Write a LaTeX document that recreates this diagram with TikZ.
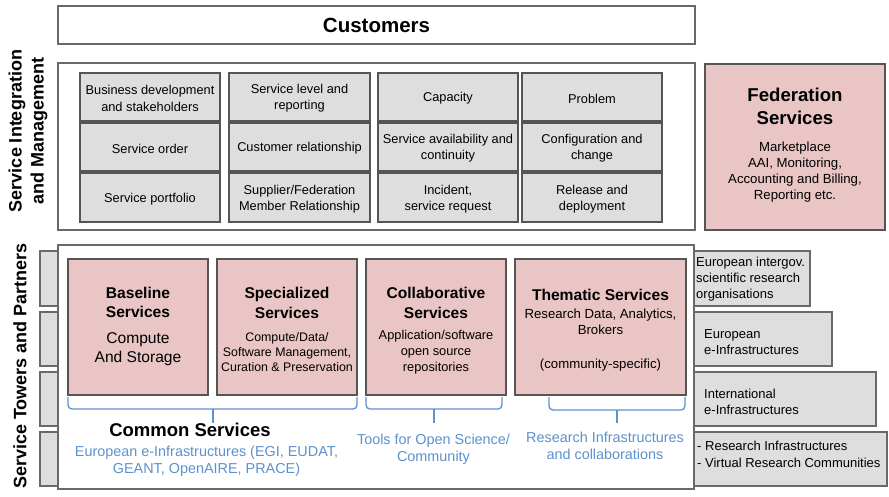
\documentclass[tikz,border=0pt]{standalone}
\usepackage{fontspec}
\setmainfont{Liberation Sans}
\definecolor{pinkfill}{RGB}{234,197,197}
\definecolor{grayfill}{RGB}{222,222,222}
\definecolor{edgegray}{RGB}{105,105,105}
\definecolor{darkedge}{RGB}{85,85,85}
\definecolor{bluetxt}{RGB}{92,146,206}
\begin{document}
\begin{tikzpicture}[x=1pt,y=-1pt,
  outerbox/.style={draw=edgegray, line width=1.2pt, fill=white, inner sep=0pt},
  graybox/.style={draw=darkedge, line width=1.4pt, fill=grayfill, inner sep=0pt,
    minimum width=140pt, minimum height=48pt,
    label={[gtext]center:{#1}}},
  gtext/.style={align=center, inner sep=0pt, yshift=-1.5pt, font=\fontsize{12.8}{16.3}\selectfont},
  strip/.style={draw=edgegray, line width=1.2pt, fill=grayfill, inner sep=0pt},
  striptext/.style={anchor=west, align=left, inner sep=0pt, font=\fontsize{13}{16}\selectfont},
  pinkbox/.style={draw=darkedge, line width=1.4pt, fill=pinkfill, inner sep=0pt,
    minimum height=136pt},
  ptitle/.style={align=center, inner sep=0pt, font=\bfseries\fontsize{15.6}{19.3}\selectfont},
  psub/.style={align=center, inner sep=0pt, font=\fontsize{12.6}{15.5}\selectfont},
  bluetext/.style={align=center, inner sep=0pt, text=bluetxt, font=\fontsize{14.4}{16.8}\selectfont},
  bracepath/.style={draw=bluetxt, line width=1.3pt, rounded corners=4pt},
  sidelabel/.style={rotate=90, align=center, inner sep=0pt, font=\bfseries\fontsize{18}{22}\selectfont}
]
\useasboundingbox (0,0) rectangle (889,496);

% Customers
\node[outerbox, minimum width=637pt, minimum height=38pt, font=\bfseries\fontsize{20.5}{24}\selectfont]
  (cust) at (376.5,25) {Customers};

% Service Integration and Management
\node[outerbox, minimum width=637pt, minimum height=167pt] (sim) at (376.5,146.5) {};
\node[sidelabel] (simlabel) at (28,131) {Service Integration\\and Management};

\node[graybox={Business development\\and stakeholders}] (bd) at (150,97) {};
\node[graybox={Service order}] (so) at (150,147) {};
\node[graybox={Service portfolio}, minimum height=49pt] (sp) at (150,197.5) {};

\node[graybox={Service level and\\reporting}, minimum width=141pt] (sl) at (299.5,97) {};
\node[graybox={Customer relationship}, minimum width=141pt] (cr) at (299.5,147) {};
\node[graybox={Supplier/Federation\\Member Relationship}, minimum width=141pt, minimum height=49pt] (sf) at (299.5,197.5) {};

\node[graybox={Capacity}] (cap) at (448,97) {};
\node[graybox={Service availability and\\continuity}] (sa) at (448,147) {};
\node[graybox={Incident,\\service request}, minimum height=49pt] (inc) at (448,197.5) {};

\node[graybox={Problem}] (pr) at (592,97) {};
\node[graybox={Configuration and\\change}] (cc) at (592,147) {};
\node[graybox={Release and\\deployment}, minimum height=49pt] (rd) at (592,197.5) {};

% Federation Services
\node[draw=darkedge, line width=1.4pt, fill=pinkfill, minimum width=180pt, minimum height=166pt, inner sep=0pt]
  (fed) at (795,147) {};
\node[align=center, inner sep=0pt, font=\bfseries\fontsize{18.6}{23}\selectfont] (fedtitle) at (795,106.5)
  {Federation\\Services};
\node[align=center, inner sep=0pt, font=\fontsize{13.2}{16}\selectfont] (fedtext) at (795,172.5)
  {Marketplace\\AAI, Monitoring,\\Accounting and Billing,\\Reporting etc.};

% Strips (partners)
\node[strip, minimum width=770pt, minimum height=55pt] (s1) at (425,278.5) {};
\node[strip, minimum width=792pt, minimum height=54pt] (s2) at (436,339) {};
\node[strip, minimum width=836pt, minimum height=54pt] (s3) at (458,399) {};
\node[strip, minimum width=847pt, minimum height=54pt] (s4) at (463.5,459) {};

% Service Towers box
\node[outerbox, minimum width=636pt, minimum height=244pt] (towers) at (376,367) {};
\node[sidelabel] (towlabel) at (20,366) {Service Towers and Partners};

\node[striptext] (s1t) at (696,279.5) {European intergov.\\scientific research\\organisations};
\node[striptext] (s2t) at (704,342) {European\\e-Infrastructures};
\node[striptext] (s3t) at (704,401.5) {International\\e-Infrastructures};
\node[striptext, font=\fontsize{13}{17}\selectfont] (s4t) at (697,454.5) {- Research Infrastructures\\- Virtual Research Communities};

% Pink service boxes
\node[pinkbox, minimum width=140pt] (base) at (138,327) {};
\node[pinkbox, minimum width=140pt] (spec) at (287,327) {};
\node[pinkbox, minimum width=140pt] (coll) at (436,327) {};
\node[pinkbox, minimum width=171pt] (them) at (600.5,327) {};

\node[ptitle] (baset) at (138,302.5) {Baseline\\Services};
\node[align=center, inner sep=0pt, font=\fontsize{15.6}{18.7}\selectfont] (bases) at (138,349.5) {Compute\\And Storage};

\node[ptitle] (spect) at (287,303) {Specialized\\Services};
\node[psub, font=\fontsize{12.4}{15}\selectfont] (specs) at (287,352) {Compute/Data/\\Software Management,\\Curation \& Preservation};

\node[ptitle] (collt) at (436,303) {Collaborative\\Services};
\node[psub, font=\fontsize{12.8}{16}\selectfont] (colls) at (436,352) {Application/software\\open source\\repositories};

\node[ptitle] (themt) at (600.5,295) {Thematic Services};
\node[psub, font=\fontsize{13.2}{16}\selectfont] (thems) at (600.5,322) {Research Data, Analytics,\\Brokers};
\node[psub, font=\fontsize{13.2}{16}\selectfont] (themc) at (600.5,365) {(community-specific)};

% Braces
\draw[bracepath] (68,397) -- (68,409) -- (357,409) -- (357,397);
\draw[bracepath] (213,409) -- (213,423);
\draw[bracepath] (366,397) -- (366,409) -- (502,409) -- (502,397);
\draw[bracepath] (434,409) -- (434,423);
\draw[bracepath] (549,397) -- (549,410) -- (685,410) -- (685,397);
\draw[bracepath] (617,410) -- (617,423);

% Labels under braces
\node[inner sep=0pt, font=\bfseries\fontsize{18.5}{22}\selectfont] (common) at (190,430) {Common Services};
\node[bluetext] (eu) at (206.5,461) {European e-Infrastructures (EGI, EUDAT,\\GEANT, OpenAIRE, PRACE)};
\node[bluetext] (tools) at (433.5,449.5) {Tools for Open Science/\\Community};
\node[bluetext] (ri) at (605,446) {Research Infrastructures\\and collaborations};
\end{tikzpicture}
\end{document}
